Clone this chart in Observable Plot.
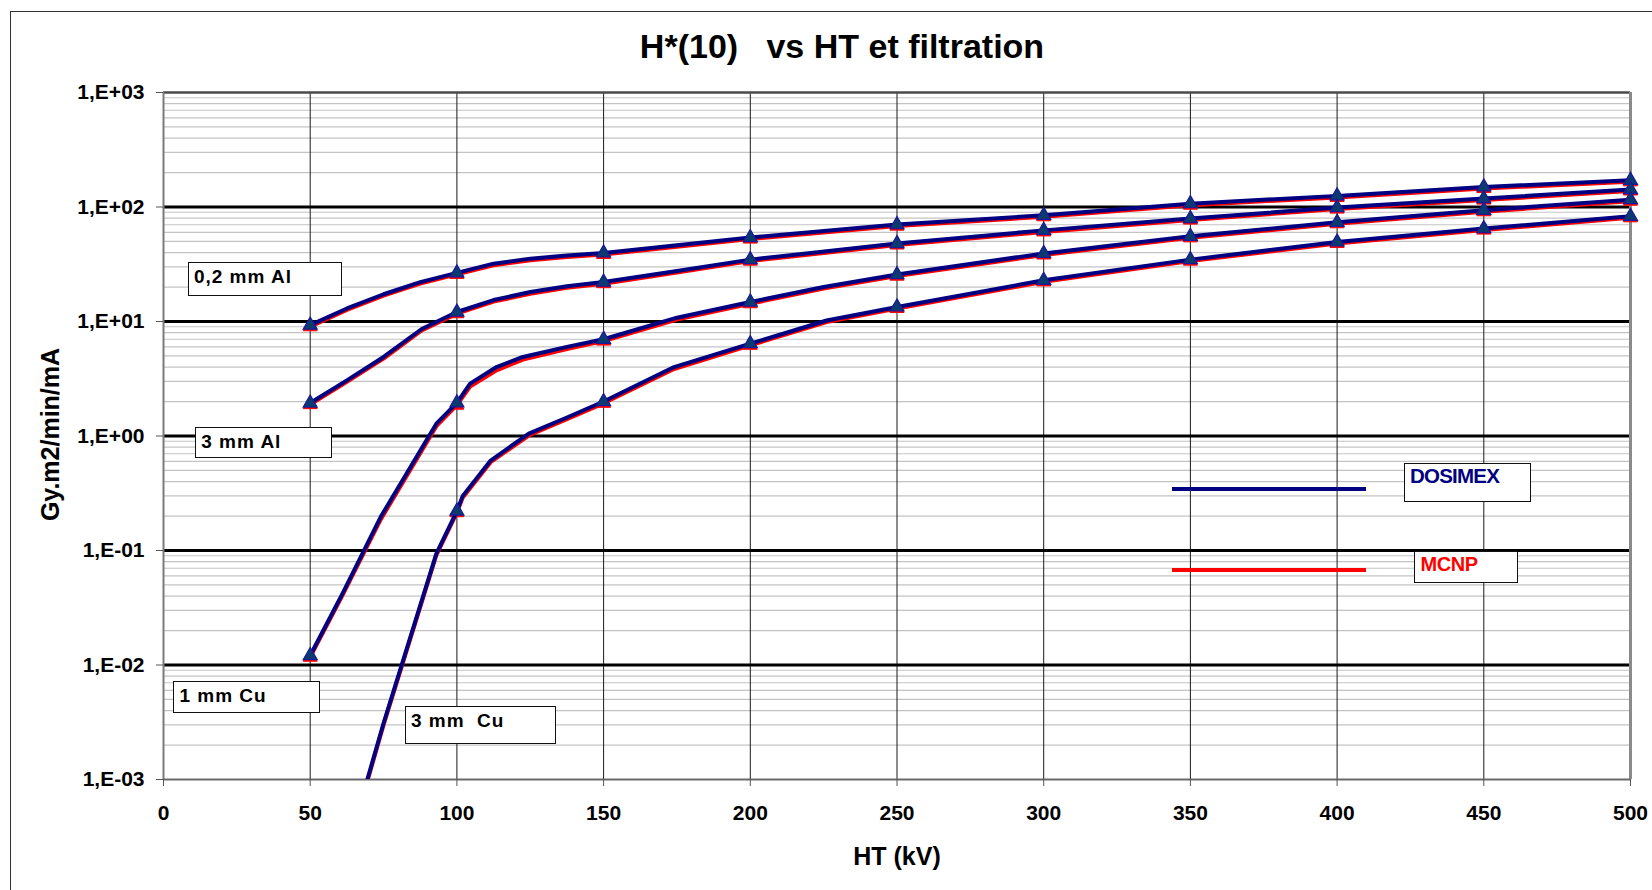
<!DOCTYPE html>
<html>
<head>
<meta charset="utf-8">
<script src="https://cdn.jsdelivr.net/npm/d3@7"></script>
<script src="https://cdn.jsdelivr.net/npm/@observablehq/plot@0.6"></script>
<style>
  body { margin: 0; background: #fff; font-family: "Liberation Sans", Arial, sans-serif; }
  #wrap { position: relative; width: 1652px; height: 890px; overflow: hidden; background: #fff; }
  #wrap svg { position: absolute; left: 0; top: 0; }
  .frame { position: absolute; left: 10px; top: 11px; width: 1700px; height: 900px; border-left: 1.5px solid #333; border-top: 1.5px solid #333; }
  .t { position: absolute; font-weight: bold; color: #000; white-space: pre; }
  .lab { position: absolute; box-sizing: border-box; border: 1.5px solid #111; background: #fff; font-weight: bold; font-size: 19px; line-height: 19px; letter-spacing: 1px; white-space: pre; color: #000; }
  .sw { position: absolute; height: 4px; }
</style>
</head>
<body>
<div id="wrap">
  <div class="frame"></div>
</div>
<script>
// ---- Data ----
const HT_02Al   = [50, 62.5, 75, 87.5, 100, 112.5, 125, 137.5, 150, 175, 200, 250, 300, 350, 400, 450, 500];
const DOS_02Al  = [9.3, 13.0, 17.3, 22.1, 26.6, 32.0, 35.4, 37.7, 39.7, 46.3, 54.1, 70.2, 84.7, 107, 125, 149.6, 171];
const MCNP_02Al = [9.0, 12.6, 16.8, 21.4, 25.8, 31.0, 34.3, 36.6, 38.5, 44.9, 52.5, 68.1, 82.2, 103.8, 121.3, 145.1, 166];

const HT_3Al    = [50, 62.5, 75, 88, 100, 112.5, 125, 137.5, 150, 175, 200, 250, 300, 350, 400, 450, 500];
const DOS_3Al   = [1.94, 3.06, 4.9, 8.6, 12.1, 15.4, 18.1, 20.3, 22.1, 27.6, 34.7, 48.0, 62.5, 79.3, 98.9, 118.5, 142];
const MCNP_3Al  = [1.88, 2.97, 4.75, 8.35, 11.7, 14.9, 17.5, 19.7, 21.4, 26.8, 33.7, 46.6, 60.6, 76.9, 95.9, 115, 138];

const HT_1Cu    = [50, 61, 74, 93, 100, 104.5, 113.5, 122.5, 137.5, 150, 175, 200, 225, 250, 300, 350, 400, 450, 500];
const DOS_1Cu   = [0.0121, 0.042, 0.196, 1.28, 1.95, 2.87, 4.0, 4.9, 6.0, 7.0, 10.8, 14.8, 20.0, 25.7, 39.3, 55.5, 73.6, 93.7, 116];
const MCNP_1Cu  = [0.0117, 0.0405, 0.186, 1.22, 1.86, 2.70, 3.75, 4.65, 5.75, 6.75, 10.4, 14.3, 19.4, 24.9, 38.1, 53.8, 71.4, 90.9, 112.5];

const HT_3Cu    = [62.5, 75, 93, 100, 102, 111.5, 124.5, 137.5, 150, 174, 200, 226, 250, 300, 350, 400, 450, 500];
const DOS_3Cu   = [0.00024, 0.0031, 0.094, 0.221, 0.30, 0.61, 1.05, 1.45, 2.0, 4.0, 6.41, 10.2, 13.4, 22.9, 34.7, 49.5, 64.8, 83];
const MCNP_3Cu  = [0.00023, 0.0030, 0.091, 0.214, 0.29, 0.59, 1.01, 1.40, 1.93, 3.85, 6.2, 9.9, 13.0, 22.2, 33.7, 48.0, 62.9, 80.5];

const filters = ["0,2 mm Al", "3 mm Al", "1 mm Cu", "3 mm  Cu"];
const sources = ["DOSIMEX", "MCNP"];
const xTicks = [0, 50, 100, 150, 200, 250, 300, 350, 400, 450, 500];
const yTicks = [1e-3, 1e-2, 1e-1, 1, 10, 100, 1000];
const yTickLabels = ["1,E-03", "1,E-02", "1,E-01", "1,E+00", "1,E+01", "1,E+02", "1,E+03"];
const title = "H*(10)   vs HT et filtration";
const xLabel = "HT (kV)";
const yLabel = "Gy.m2/min/mA";

// ---- Tidy table ----
function rows(filter, ht, dos, mcnp) {
  return ht.flatMap((kV, i) => [
    {filter, src: "DOSIMEX", kV, value: dos[i]},
    {filter, src: "MCNP", kV, value: mcnp[i]}
  ]);
}
const data = [
  ...rows(filters[0], HT_02Al, DOS_02Al, MCNP_02Al),
  ...rows(filters[1], HT_3Al, DOS_3Al, MCNP_3Al),
  ...rows(filters[2], HT_1Cu, DOS_1Cu, MCNP_1Cu),
  ...rows(filters[3], HT_3Cu, DOS_3Cu, MCNP_3Cu)
];
const dos = data.filter(d => d.src === "DOSIMEX");
const mcnp = data.filter(d => d.src === "MCNP");
const isMarker = d => d.kV % 50 === 0 && d.value >= 1e-3;

const minorGrid = yTicks.slice(0, -1).flatMap(d => [2, 3, 4, 5, 6, 7, 8, 9].map(k => k * d));
const majorGrid = yTicks.slice(1, -1);
const vGrid = xTicks.slice(1, -1);

const chart = Plot.plot({
  width: 1652,
  height: 890,
  marginLeft: 163,
  marginRight: 22,
  marginTop: 92,
  marginBottom: 111,
  style: {fontFamily: "'Liberation Sans', Arial, sans-serif", background: "transparent", color: "#000"},
  x: {domain: [0, 500]},
  y: {type: "log", domain: [1e-3, 1e3]},
  marks: [
    Plot.ruleY(minorGrid, {stroke: "#c4c4c4", strokeWidth: 1.2}),
    Plot.ruleX(vGrid, {stroke: "#1a1a1a", strokeWidth: 1}),
    Plot.ruleY(majorGrid, {stroke: "#000", strokeWidth: 3}),
    Plot.ruleY([1e3], {stroke: "#4a4a4a", strokeWidth: 2.5}),
    Plot.ruleX([500], {stroke: "#8a8a8a", strokeWidth: 3}),
    Plot.ruleX([0], {stroke: "#7a7a7a", strokeWidth: 2}),
    Plot.ruleY([1e-3], {stroke: "#6a6a6a", strokeWidth: 2}),
    Plot.axisX({ticks: xTicks, tickSize: 7, tickPadding: 19, fontSize: 21, fontWeight: "bold", label: null, stroke: "#555"}),
    Plot.axisY({ticks: yTicks, tickFormat: d => yTickLabels[yTicks.indexOf(d)], tickSize: 7, tickPadding: 12, fontSize: 21, fontWeight: "bold", label: null, stroke: "#555"}),
    Plot.line(mcnp, {x: "kV", y: "value", z: "filter", stroke: "#ff0000", strokeWidth: 4, clip: true}),
    Plot.dot(mcnp.filter(isMarker), {x: "kV", y: "value", symbol: "triangle", r: 5.2, fill: "#ff0000", stroke: "#ff0000", strokeWidth: 1}),
    Plot.line(dos, {x: "kV", y: "value", z: "filter", stroke: "#000080", strokeWidth: 4, clip: true}),
    Plot.dot(dos.filter(isMarker), {x: "kV", y: "value", symbol: "triangle", r: 5.2, fill: "#0b3a6e", stroke: "#1a1a9a", strokeWidth: 1.2})
  ]
});

const wrap = document.getElementById("wrap");
wrap.appendChild(chart);

function addText(cls, text, css) {
  const el = document.createElement("div");
  el.className = cls;
  el.textContent = text;
  Object.assign(el.style, css);
  wrap.appendChild(el);
  return el;
}

// Title and axis titles
addText("t", title, {left: "242px", width: "1200px", top: "29px", fontSize: "34px", lineHeight: "34px", textAlign: "center"});
addText("t", xLabel, {left: "697px", width: "400px", top: "844px", fontSize: "25px", lineHeight: "25px", textAlign: "center"});
addText("t", yLabel, {left: "-100px", width: "300px", top: "422px", height: "25px", fontSize: "25px", lineHeight: "25px", textAlign: "center", transform: "rotate(-90deg)", transformOrigin: "150px 12.5px"});

// Filter labels
const labelBoxes = [
  {left: 187.5, top: 262.3, width: 154, height: 34, pt: 3.4, pl: 5.4},
  {left: 195.2, top: 426.7, width: 137, height: 31.6, pt: 4.2, pl: 5},
  {left: 173, top: 680.7, width: 147, height: 32.6, pt: 4, pl: 5.4},
  {left: 404.9, top: 706, width: 150.8, height: 38.3, pt: 3.7, pl: 5}
];
filters.forEach((f, i) => {
  const b = labelBoxes[i];
  addText("lab", f, {left: b.left + "px", top: b.top + "px", width: b.width + "px", height: b.height + "px", paddingTop: b.pt + "px", paddingLeft: b.pl + "px"});
});

// Legend
const legendColors = ["#000080", "#ff0000"];
const legendBoxes = [
  {left: 1403.5, top: 463.3, width: 127, height: 38.4, pt: 1.9, pl: 5.6, fs: 20.5, ls: -0.8, line: 486.7},
  {left: 1414.4, top: 550.7, width: 103.6, height: 32.6, pt: 2.6, pl: 5.2, fs: 20, ls: -0.5, line: 568}
];
sources.forEach((s, i) => {
  const b = legendBoxes[i];
  addText("lab", s, {left: b.left + "px", top: b.top + "px", width: b.width + "px", height: b.height + "px", paddingTop: b.pt + "px", paddingLeft: b.pl + "px", fontSize: b.fs + "px", lineHeight: b.fs + "px", letterSpacing: b.ls + "px", color: legendColors[i]});
  const sw = document.createElement("div");
  sw.className = "sw";
  Object.assign(sw.style, {left: "1172px", width: "194px", top: b.line + "px", background: legendColors[i]});
  wrap.appendChild(sw);
});
</script>
</body>
</html>
